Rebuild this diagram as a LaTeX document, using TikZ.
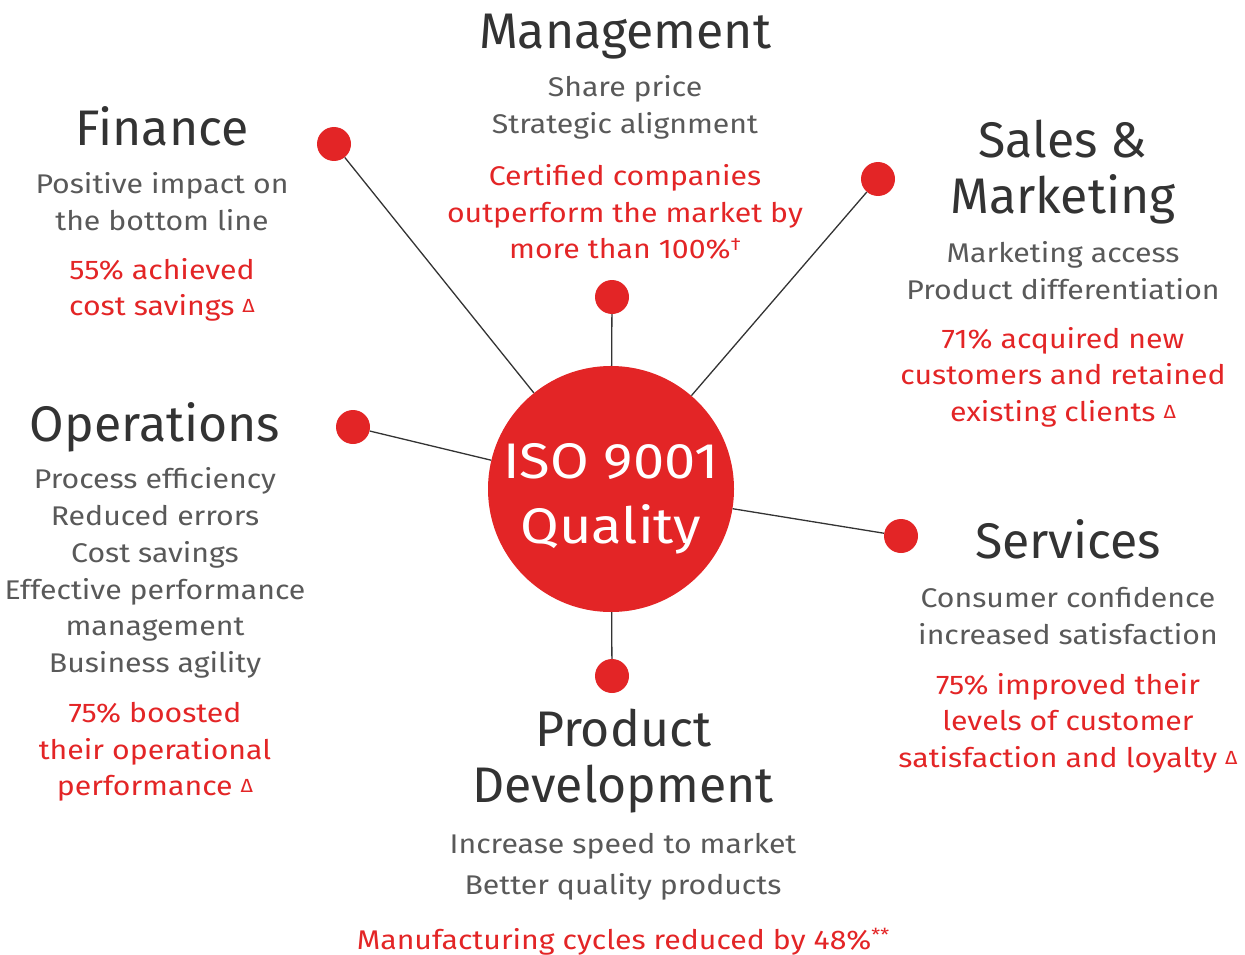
\documentclass[tikz,border=0pt]{standalone}
\usepackage{fontspec}
\setmainfont{Fira Sans}
\newfontfamily\widefont{Fira Sans}[FakeStretch=1.12]
\usetikzlibrary{positioning}
\newlength{\du}
\setlength{\du}{1pt}
\definecolor{isored}{rgb}{0.890000, 0.145000, 0.150000}
\definecolor{factgrey}{rgb}{0.350000, 0.350000, 0.350000}
\definecolor{titlegrey}{rgb}{0.200000, 0.200000, 0.200000}
\newcommand{\tri}{\ {\fontsize{19}{19}\selectfont\raisebox{3\du}{Δ}}}
\newcommand{\daggermark}{{\fontsize{18}{18}\selectfont\raisebox{8\du}{†}}}
\tikzset{
  hub/.style={circle, fill=isored, minimum size=246\du, inner sep=0pt},
  hubtext/.style={text=white, align=center, inner sep=0pt, font=\widefont\fontsize{50}{65}\selectfont},
  spot/.style={circle, fill=isored, minimum size=34\du, inner sep=0pt},
  spoke/.style={draw=titlegrey, line width=1.3\du},
  heading/.style={text=titlegrey, align=center, inner sep=0pt, font=\fontsize{50}{56}\selectfont},
  facts/.style={text=factgrey, align=center, inner sep=0pt, font=\widefont\fontsize{27}{36.8}\selectfont},
  claim/.style={text=isored, align=center, inner sep=0pt, font=\widefont\fontsize{27}{36.6}\selectfont}
}
\begin{document}
\begin{tikzpicture}
\pgftransformxscale{1.000000}
\pgftransformyscale{-1.000000}
\useasboundingbox (0\du,0\du) rectangle (1245\du,955\du);
\node[hub] (hub) at (611\du,489\du){};
\node[hubtext] (hubLabel) at (611\du,499\du){ISO 9001\\Quality};
\node[spot] (finDot) at (334\du,144\du){};
\node[spot] (mgmtDot) at (612\du,297\du){};
\node[spot] (salesDot) at (878\du,179\du){};
\node[spot] (opsDot) at (353\du,427\du){};
\node[spot] (servDot) at (901\du,536\du){};
\node[spot] (prodDot) at (612\du,676\du){};
\draw[spoke] (finDot) -- (hub);
\draw[spoke] (mgmtDot) -- (hub);
\draw[spoke] (salesDot) -- (hub);
\draw[spoke] (opsDot) -- (hub);
\draw[spoke] (servDot) -- (hub);
\draw[spoke] (prodDot) -- (hub);
% Management
\node[heading] (mgmtHead) at (625\du,37\du){Management};
\node[facts] (mgmtFacts) at (625\du,107\du){Share price\\Strategic alignment};
\node[claim] (mgmtClaim) at (625\du,212\du){Certified companies\\outperform the market by\\more than 100\%\daggermark};
% Finance
\node[heading] (finHead) at (162\du,126\du){Finance};
\node[facts] (finFacts) at (162\du,202\du){Positive impact on\\the bottom line};
\node[claim] (finClaim) at (162\du,290\du){55\% achieved\\cost savings\tri};
% Sales & Marketing
\node[heading] (salesHead) at (1063\du,172\du){Sales \&\\Marketing};
\node[facts] (salesFacts) at (1063\du,271\du){Marketing access\\Product differentiation};
\node[claim] (salesClaim) at (1063\du,377\du){71\% acquired new\\customers and retained\\existing clients\tri};
% Operations
\node[heading] (opsHead) at (155\du,427\du){Operations};
\node[facts] (opsFacts) at (155\du,573\du){Process efficiency\\Reduced errors\\Cost savings\\Effective performance\\management\\Business agility};
\node[claim] (opsClaim) at (155\du,752\du){75\% boosted\\their operational\\performance\tri};
% Services
\node[heading] (servHead) at (1068\du,539\du){Services};
\node[facts] (servFacts) at (1068\du,616\du){Consumer confidence\\increased satisfaction};
\node[claim] (servClaim) at (1068\du,723\du){75\% improved their\\levels of customer\\satisfaction and loyalty\tri};
% Product Development
\node[heading] (prodHead) at (623\du,761\du){Product\\Development};
\node[facts, font=\widefont\fontsize{27}{41}\selectfont] (prodFacts) at (623\du,867\du){Increase speed to market\\Better quality products};
\node[claim] (prodClaim) at (623\du,942\du){Manufacturing cycles reduced by 48\%{\fontsize{18}{18}\selectfont\raisebox{8\du}{**}}};
\end{tikzpicture}
\end{document}
